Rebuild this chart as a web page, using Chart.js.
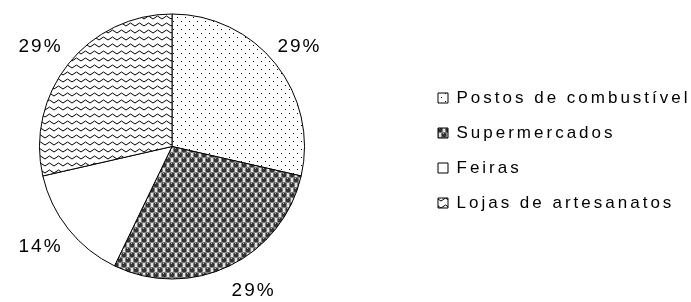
<!DOCTYPE html>
<html>
<head>
<meta charset="utf-8">
<script src="https://cdn.jsdelivr.net/npm/chart.js@4"></script>
<style>
  html, body { margin: 0; padding: 0; background: #fff; }
  #wrap { position: relative; width: 691px; height: 302px; }
</style>
</head>
<body>
<div id="wrap"><canvas id="chart"></canvas></div>
<script>
const categories = ['Postos de combustível', 'Supermercados', 'Feiras', 'Lojas de artesanatos'];
const values = [2, 2, 1, 2];

// little tiles to mimic the old hatch fills
function tile(w, h, draw) {
  const c = document.createElement('canvas');
  c.width = w; c.height = h;
  const g = c.getContext('2d');
  g.fillStyle = '#fff';
  g.fillRect(0, 0, w, h);
  draw(g);
  return document.getElementById('chart').getContext('2d').createPattern(c, 'repeat');
}

const dots = tile(8, 8, g => {
  g.fillStyle = '#000';
  g.fillRect(1, 1, 1, 1);
  g.fillRect(5, 5, 1, 1);
});

const balls = tile(8, 10, g => {
  [[0, 0], [8, 0], [0, 10], [8, 10], [4, 5]].forEach(([x, y]) => {
    g.fillStyle = '#333';
    g.strokeStyle = '#888';
    g.beginPath();
    g.arc(x, y, 2.9, 0, Math.PI * 2);
    g.fill();
    g.stroke();
    g.fillStyle = '#aaa';
    g.fillRect(x - 1, y - 2, 1, 1);
  });
});

const waves = tile(9, 7, g => {
  g.strokeStyle = '#000';
  g.lineWidth = 1;
  g.beginPath();
  g.moveTo(0, 5);
  g.lineTo(4.5, 2);
  g.lineTo(9, 5);
  g.stroke();
});

const fills = [dots, balls, '#fff', waves];

// wide old-style lettering, and legend pushed right of the pie
const spacing = {
  id: 'spacing',
  beforeUpdate(chart) {
    chart.ctx.letterSpacing = '3px';
    const legend = chart.legend;
    if (legend && !legend._wide) {
      const fit = legend.fit;
      legend.fit = function () {
        fit.call(this);
        this.width = chart.width - 305;
      };
      legend._wide = true;
    }
  },
  afterLayout(chart) {
    const legend = chart.legend;
    const shift = 420 - legend.left;
    legend.left += shift;
    legend.right += shift;
    legend.top += 4;
    legend.bottom += 4;
  },
  beforeDraw(chart) { chart.ctx.letterSpacing = '3px'; }
};

const pctLabels = {
  id: 'pctLabels',
  afterDatasetsDraw(chart) {
    const ctx = chart.ctx;
    const meta = chart.getDatasetMeta(0);
    const data = chart.data.datasets[0].data;
    const total = data.reduce((a, b) => a + b, 0);
    ctx.save();
    ctx.letterSpacing = '2px';
    ctx.font = '19px "Liberation Sans", Arial, sans-serif';
    ctx.fillStyle = '#000';
    ctx.textAlign = 'center';
    ctx.textBaseline = 'middle';
    meta.data.forEach((arc, i) => {
      const { x, y, startAngle, endAngle, outerRadius } = arc.getProps(['x', 'y', 'startAngle', 'endAngle', 'outerRadius'], true);
      const mid = (startAngle + endAngle) / 2;
      const r = outerRadius + 28;
      const push = Math.cos(mid) > 0 ? (Math.sin(mid) > 0 ? 12 : 2) : -6;
      ctx.fillText(Math.round(data[i] / total * 100) + '%', x + Math.cos(mid) * r + push, y + Math.sin(mid) * r);
    });
    ctx.restore();
  }
};

new Chart(document.getElementById('chart'), {
  type: 'pie',
  data: {
    labels: categories,
    datasets: [{
      data: values,
      backgroundColor: fills,
      borderColor: '#000',
      borderWidth: 1
    }]
  },
  options: {
    responsive: true,
    maintainAspectRatio: false,
    animation: false,
    layout: { padding: { left: 39, top: 13, bottom: 22, right: 0 } },
    plugins: {
      tooltip: { enabled: false },
      legend: {
        position: 'right',
        align: 'center',
        labels: {
          color: '#000',
          font: { family: '"Liberation Sans", Arial, sans-serif', size: 17 },
          boxWidth: 10,
          boxHeight: 10,
          padding: 18
        }
      }
    }
  },
  plugins: [spacing, pctLabels]
});
</script>
</body>
</html>
